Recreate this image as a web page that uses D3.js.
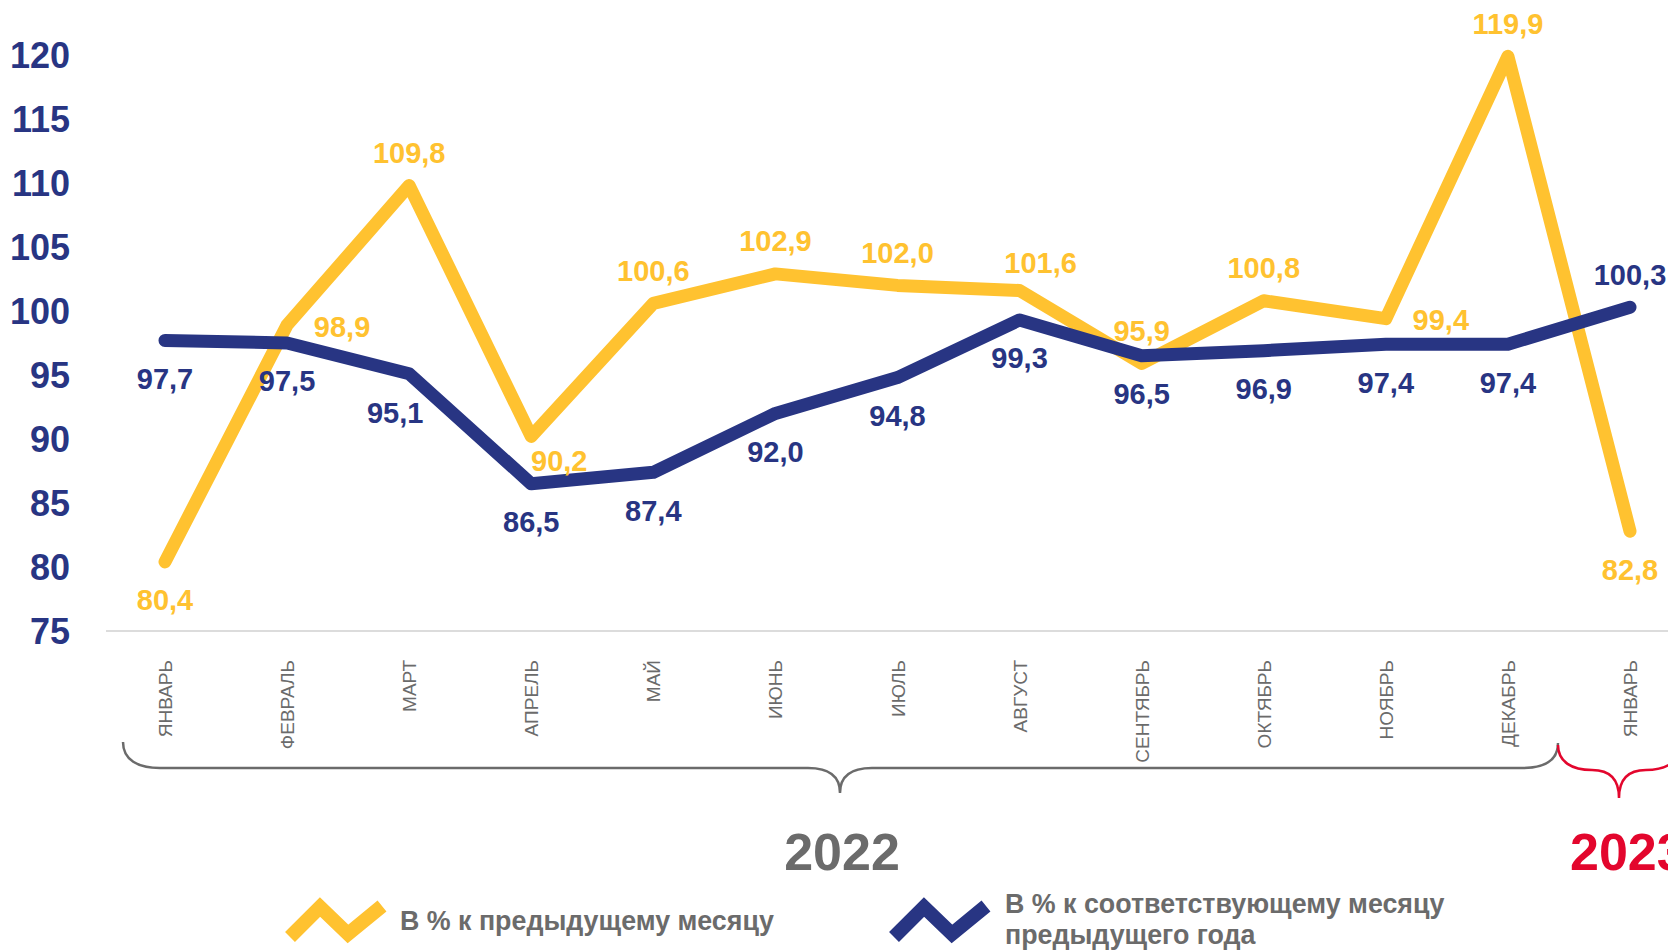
<!DOCTYPE html>
<html>
<head>
<meta charset="utf-8">
<script src="https://cdn.jsdelivr.net/npm/d3@7"></script>
<style>
  html, body { margin: 0; padding: 0; background: #fff; }
  svg { display: block; font-family: "Liberation Sans", Arial, sans-serif; }
</style>
</head>
<body>
<div class="chart"></div>
<script>
'use strict';

// chart data
var months = ['ЯНВАРЬ', 'ФЕВРАЛЬ', 'МАРТ', 'АПРЕЛЬ', 'МАЙ', 'ИЮНЬ', 'ИЮЛЬ', 'АВГУСТ',
  'СЕНТЯБРЬ', 'ОКТЯБРЬ', 'НОЯБРЬ', 'ДЕКАБРЬ', 'ЯНВАРЬ'];
var prevMonth = [80.4, 98.9, 109.8, 90.2, 100.6, 102.9, 102.0, 101.6, 95.9, 100.8, 99.4, 119.9, 82.8];
var prevYear = [97.7, 97.5, 95.1, 86.5, 87.4, 92.0, 94.8, 99.3, 96.5, 96.9, 97.4, 97.4, 100.3];
var yTicks = [75, 80, 85, 90, 95, 100, 105, 110, 115, 120];
var years = ['2022', '2023'];
var legendLabels = ['В % к предыдущему месяцу', ['В % к соответствующему месяцу', 'предыдущего года']];

// where each value label sits relative to its point
var prevMonthSide = ['below', 'right', 'above', 'rightLow', 'above', 'above', 'above', 'aboveRight',
  'above', 'above', 'right', 'above', 'below'];
var prevYearSide = ['below', 'below', 'belowLeft', 'below', 'below', 'below', 'below', 'below',
  'below', 'below', 'below', 'below', 'above'];

var YELLOW = '#ffc230',
    NAVY = '#283583',
    GREY = '#6b6b6b',
    RED = '#e3062d';

var width = 1668,
    height = 950;

var svg = d3.select('.chart').append('svg').attr('width', width).attr('height', height);

var x = d3.scalePoint().domain(d3.range(months.length)).range([165, 1630]);
var y = d3.scaleLinear().domain([75, 120]).range([631, 55]);

var offsets = {
  above: [0, -33],
  below: [0, 38],
  right: [55, 1],
  rightLow: [28, 24],
  aboveRight: [21, -28],
  belowLeft: [-14, 39]
};

// baseline
svg.append('line')
  .attr('x1', 106).attr('x2', width)
  .attr('y1', y(75)).attr('y2', y(75))
  .attr('stroke', '#dcdcdc').attr('stroke-width', 2);

// y axis
var yAxis = svg.append('g')
  .attr('transform', 'translate(70,0)')
  .call(d3.axisLeft(y).tickValues(yTicks).tickSize(0).tickPadding(0));
yAxis.select('.domain').remove();
yAxis.selectAll('text')
  .attr('font-family', '"Liberation Sans", Arial, sans-serif')
  .attr('font-size', 36)
  .attr('font-weight', 'bold')
  .attr('fill', NAVY)
  .attr('dy', '0.36em');

// month labels
svg.append('g').selectAll('text')
  .data(months)
  .enter().append('text')
  .attr('transform', function (d, i) { return 'translate(' + (x(i) + 7) + ',660) rotate(-90)'; })
  .attr('text-anchor', 'end')
  .attr('font-size', 19)
  .attr('fill', GREY)
  .text(function (d) { return d; });

// lines
var line = d3.line()
  .x(function (d, i) { return x(i); })
  .y(function (d) { return y(d); });

function drawSeries(values, color) {
  svg.append('path')
    .datum(values)
    .attr('d', line)
    .attr('fill', 'none')
    .attr('stroke', color)
    .attr('stroke-width', 13)
    .attr('stroke-linecap', 'round')
    .attr('stroke-linejoin', 'round');
}

drawSeries(prevMonth, YELLOW);
drawSeries(prevYear, NAVY);

function fmt(v) {
  return v.toFixed(1).replace('.', ',');
}

function drawLabels(values, sides, color) {
  svg.append('g').selectAll('text')
    .data(values)
    .enter().append('text')
    .attr('x', function (d, i) { return x(i) + offsets[sides[i]][0]; })
    .attr('y', function (d, i) { return y(d) + offsets[sides[i]][1]; })
    .attr('dy', '0.36em')
    .attr('text-anchor', 'middle')
    .attr('font-size', 29)
    .attr('font-weight', 'bold')
    .attr('fill', color)
    .text(fmt);
}

drawLabels(prevMonth, prevMonthSide, YELLOW);
drawLabels(prevYear, prevYearSide, NAVY);

// year braces
svg.append('path')
  .attr('d', 'M123,742 C123,760 138,768 160,768 L808,768 Q840,768 840,793 Q840,768 872,768 L1522,768 C1546,768 1558,760 1558,743')
  .attr('fill', 'none')
  .attr('stroke', GREY)
  .attr('stroke-width', 2.5);

svg.append('path')
  .attr('d', 'M1558,745 C1558,762 1572,770 1592,770 Q1619,770 1619,798 Q1619,770 1646,770 C1666,770 1680,762 1680,745')
  .attr('fill', 'none')
  .attr('stroke', RED)
  .attr('stroke-width', 2.5);

svg.append('text')
  .attr('x', 842).attr('y', 870)
  .attr('text-anchor', 'middle')
  .attr('font-size', 52)
  .attr('font-weight', 'bold')
  .attr('fill', GREY)
  .text(years[0]);

svg.append('text')
  .attr('x', 1570).attr('y', 870)
  .attr('font-size', 52)
  .attr('font-weight', 'bold')
  .attr('fill', RED)
  .text(years[1]);

// legend
function zigzag(x0, color) {
  svg.append('polyline')
    .attr('points', [[x0, 937], [x0 + 30, 907], [x0 + 58, 934], [x0 + 92, 906]].join(' '))
    .attr('fill', 'none')
    .attr('stroke', color)
    .attr('stroke-width', 14);
}

zigzag(290, YELLOW);
zigzag(894, NAVY);

svg.append('text')
  .attr('x', 400).attr('y', 930)
  .attr('font-size', 26.8)
  .attr('font-weight', 'bold')
  .attr('fill', GREY)
  .text(legendLabels[0]);

svg.append('text')
  .attr('x', 1005).attr('y', 913)
  .attr('font-size', 26.8)
  .attr('font-weight', 'bold')
  .attr('fill', GREY)
  .selectAll('tspan')
  .data(legendLabels[1])
  .enter().append('tspan')
  .attr('x', 1005)
  .attr('dy', function (d, i) { return i ? 31 : 0; })
  .text(function (d) { return d; });
</script>
</body>
</html>
